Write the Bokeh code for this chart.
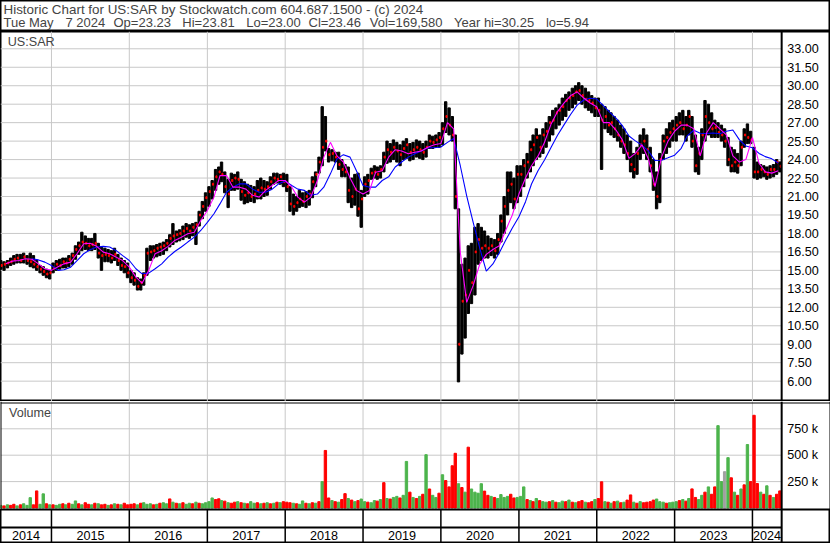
import pandas as pd
from bokeh.plotting import figure
from bokeh.layouts import column
from bokeh.models import Range1d, ColumnDataSource, Span, Label
from bokeh.embed import file_html
from bokeh.resources import INLINE
from bokeh.core.properties import value

# ---------------- texts ----------------
TITLE1 = "Historic Chart for US:SAR by Stockwatch.com 604.687.1500 - (c) 2024"
TITLE2_PARTS = ["Tue May", "7 2024", "Op=23.23", "Hi=23.81", "Lo=23.00", "Cl=23.46",
                "Vol=169,580", "Year hi=30.25", "lo=5.94"]
TITLE2_X = [3, 65, 113, 181.8, 245.7, 308, 369.3, 453.5, 545.4]   # text placement (px)
SYMBOL = "US:SAR"
VOL_TITLE = "Volume"

# ---------------- data (semi-monthly periods from 2014-05-01) ----------------
first_period = "2014-05-01"
hi = [15.8, 15.7, 15.8, 16.0, 16.2, 16.3, 16.3, 16.4, 16.2, 16.4, 16.2, 15.8, 15.4, 15.3, 15.1, 15.0,
      15.6, 15.8, 15.9, 16.0, 16.0, 16.2, 16.4, 17.0, 17.3, 18.1, 17.8, 17.6, 17.6, 18.0, 17.2, 16.9, 16.8, 16.7, 16.6, 16.8, 16.3, 16.0, 15.8, 15.6,
      15.0, 14.8, 14.4, 14.3, 14.8, 16.8, 17.0, 17.0, 17.1, 17.2, 17.3, 17.5, 17.9, 18.8, 18.2, 18.3, 18.6, 18.8, 18.7, 18.8, 18.9, 19.8, 20.6, 21.3,
      21.8, 22.3, 23.2, 23.4, 23.8, 23.0, 22.4, 22.9, 22.8, 23.0, 22.4, 22.2, 22.0, 21.9, 21.8, 22.3, 22.5, 22.3, 22.2, 22.6, 22.9, 22.9, 22.8, 22.9,
      22.8, 21.8, 21.2, 21.0, 21.5, 21.3, 21.4, 21.5, 22.6, 23.0, 24.2, 28.3, 27.5, 24.9, 24.8, 24.6, 24.6, 24.0, 23.6, 23.4, 22.5, 22.8, 22.9, 21.5,
      22.6, 22.8, 23.3, 23.5, 23.4, 23.5, 24.6, 25.5, 25.3, 25.6, 25.4, 25.2, 25.5, 25.7, 25.3, 25.4, 25.6, 25.5, 25.3, 25.5, 26.0, 25.9, 26.0, 26.2,
      27.0, 28.7, 28.2, 27.5, 26.0, 20.0, 15.5, 16.0, 17.0, 17.2, 18.5, 18.8, 18.5, 18.2, 17.8, 17.6, 17.5, 18.0, 19.5, 21.0, 23.0, 23.0, 22.5, 23.5,
      23.5, 24.0, 24.5, 25.5, 26.0, 26.5, 26.0, 26.5, 27.0, 27.5, 28.0, 28.2, 28.5, 29.0, 29.3, 29.5, 29.8, 30.0, 30.25, 30.0, 29.8, 29.5, 29.2, 29.0,
      29.0, 28.5, 28.3, 28.0, 27.8, 27.5, 27.2, 26.8, 26.5, 26.0, 25.5, 24.5, 25.0, 26.0, 26.5, 26.0, 25.0, 24.0, 23.0, 24.5, 26.0, 26.5, 27.0, 27.2,
      27.5, 27.8, 28.0, 27.5, 28.0, 27.5, 26.0, 25.0, 26.5, 28.8, 28.5, 27.8, 27.2, 27.0, 26.8, 26.5, 25.8, 25.0, 24.8, 24.5, 25.5, 26.5, 26.9, 26.3,
      25.0, 23.8, 23.6, 23.5, 23.4, 23.5, 23.6, 24.0, 23.81]
lo = [15.1, 15.0, 15.2, 15.4, 15.5, 15.6, 15.6, 15.6, 15.5, 15.3, 15.2, 15.0, 14.8, 14.6, 14.4, 14.3,
      14.8, 15.0, 15.1, 15.2, 15.2, 15.3, 15.5, 15.9, 16.3, 16.6, 16.7, 16.6, 16.6, 16.7, 16.0, 15.0, 15.7, 15.7, 15.6, 15.8, 15.4, 15.0, 14.8, 14.4,
      14.0, 13.8, 13.4, 13.4, 13.8, 14.6, 15.8, 16.0, 16.1, 16.2, 16.3, 16.6, 16.9, 17.1, 17.3, 17.4, 17.5, 17.7, 17.6, 17.8, 17.1, 18.6, 19.2, 19.8,
      20.2, 20.8, 21.5, 22.0, 22.2, 21.3, 20.1, 21.5, 21.5, 21.6, 20.7, 20.4, 20.5, 20.6, 20.5, 20.8, 20.8, 21.0, 21.1, 21.6, 22.0, 22.1, 22.0, 21.8,
      21.4, 19.8, 19.5, 19.8, 20.1, 20.2, 20.1, 20.3, 20.9, 21.8, 22.9, 23.5, 24.7, 23.8, 23.9, 23.8, 23.2, 22.6, 22.6, 20.5, 20.1, 20.3, 19.4, 18.5,
      21.0, 21.2, 22.4, 22.5, 22.4, 22.5, 23.0, 23.7, 23.8, 24.0, 23.8, 23.5, 24.0, 24.1, 23.9, 24.0, 24.2, 24.1, 24.0, 24.2, 24.9, 24.9, 25.0, 25.0,
      25.2, 26.2, 26.0, 25.5, 20.0, 5.94, 8.2, 9.5, 11.5, 12.3, 13.0, 15.5, 15.8, 16.0, 16.0, 16.2, 16.0, 16.3, 17.3, 18.0, 19.5, 20.5, 20.0, 20.5,
      21.0, 21.8, 22.5, 23.0, 23.5, 24.0, 24.2, 24.5, 25.0, 25.5, 26.0, 26.5, 26.8, 27.2, 27.5, 28.0, 28.2, 28.5, 28.8, 28.5, 28.2, 28.0, 27.8, 27.5,
      27.5, 23.2, 26.5, 26.2, 26.0, 25.8, 25.5, 25.0, 24.5, 24.0, 23.0, 22.5, 22.8, 24.0, 24.5, 24.0, 23.0, 21.5, 20.0, 20.5, 24.0, 24.5, 25.0, 25.5,
      25.5, 26.0, 26.0, 25.5, 26.0, 25.0, 23.0, 22.8, 24.0, 25.5, 26.0, 25.8, 25.8, 25.8, 25.5, 25.0, 23.5, 23.0, 23.0, 22.9, 23.5, 25.0, 25.3, 25.3,
      22.5, 22.4, 22.5, 22.6, 22.4, 22.5, 22.6, 22.8, 23.0]
cl = [15.4, 15.5, 15.6, 15.7, 15.9, 16.0, 15.8, 16.1, 15.8, 15.7, 15.5, 15.3, 15.1, 14.9, 14.7, 14.8,
      15.2, 15.5, 15.4, 15.7, 15.6, 15.9, 16.2, 16.7, 17.0, 17.3, 17.2, 17.0, 17.1, 17.2, 16.4, 16.2, 16.3, 16.2, 16.0, 16.3, 15.8, 15.4, 15.3, 14.8,
      14.4, 14.2, 13.7, 14.0, 14.6, 16.4, 16.5, 16.6, 16.8, 16.9, 17.0, 17.2, 17.6, 17.8, 17.9, 18.0, 18.2, 18.4, 18.2, 18.5, 18.7, 19.5, 20.2, 20.9,
      21.4, 22.0, 22.6, 23.0, 22.8, 21.8, 21.2, 22.3, 22.5, 22.4, 21.4, 21.1, 21.3, 21.0, 21.2, 21.5, 21.7, 21.6, 21.8, 22.2, 22.5, 22.4, 22.6, 22.2,
      21.8, 20.4, 20.2, 20.5, 20.8, 20.6, 21.0, 21.2, 22.2, 22.8, 23.8, 25.0, 25.5, 24.4, 24.5, 24.2, 23.6, 23.2, 23.0, 21.5, 21.0, 21.6, 20.0, 20.8,
      22.0, 22.3, 22.9, 23.0, 22.8, 23.2, 24.2, 24.8, 24.6, 25.0, 24.7, 24.4, 24.9, 25.2, 24.6, 24.8, 25.0, 24.8, 24.6, 25.0, 25.5, 25.4, 25.6, 25.8,
      26.5, 27.5, 26.8, 26.0, 21.0, 9.0, 12.5, 13.0, 15.0, 14.0, 16.5, 17.5, 16.8, 17.0, 16.8, 17.0, 16.6, 17.5, 19.0, 20.2, 21.5, 22.0, 20.8, 22.8,
      22.8, 23.5, 23.8, 24.8, 25.2, 25.8, 25.0, 26.0, 26.3, 27.0, 27.2, 27.8, 28.0, 28.3, 28.8, 29.0, 29.2, 29.5, 29.6, 29.2, 28.9, 28.8, 28.6, 28.2,
      28.0, 27.2, 27.5, 26.8, 27.0, 26.5, 26.0, 25.5, 25.2, 24.5, 23.6, 23.2, 24.5, 25.2, 25.5, 24.8, 23.5, 22.0, 21.0, 24.0, 25.5, 25.8, 26.2, 26.5,
      26.8, 27.0, 26.5, 26.8, 27.5, 25.5, 23.5, 24.5, 26.0, 27.5, 27.0, 26.5, 26.6, 26.2, 26.0, 25.5, 24.0, 23.5, 23.8, 23.5, 25.0, 26.0, 25.8, 25.6,
      23.0, 23.0, 23.2, 23.0, 22.8, 23.2, 23.2, 23.8, 23.46]
vol_k = [25, 20, 30, 25, 35, 20, 30, 40, 25, 98, 30, 162, 35, 134, 40, 30,
         30, 25, 35, 40, 30, 45, 35, 67, 40, 30, 50, 35, 30, 45, 40, 30, 35, 25, 30, 40, 35, 30, 45, 30,
         35, 40, 30, 45, 50, 35, 40, 30, 35, 45, 50, 40, 86, 55, 45, 40, 50, 35, 45, 40, 55, 45, 40, 50,
         60, 95, 80, 87, 70, 65, 50, 45, 55, 60, 50, 45, 40, 60, 45, 50, 40, 45, 50, 40, 45, 55, 50, 60,
         55, 50, 45, 40, 35, 67, 45, 40, 50, 45, 60, 250, 545, 95, 70, 60, 55, 80, 136, 90, 75, 60, 70, 85,
         60, 55, 50, 70, 65, 80, 240, 90, 85, 100, 110, 95, 120, 441, 150, 100, 90, 110, 130, 505, 180, 120, 100, 140,
         315, 260, 200, 400, 518, 230, 194, 150, 576, 180, 150, 140, 230, 160, 120, 110, 100, 90, 127, 100, 110, 130, 95, 100,
         110, 200, 80, 70, 60, 90, 70, 60, 55, 60, 70, 55, 50, 65, 60, 75, 55, 50, 60, 70, 55, 50, 60, 80,
         90, 248, 60, 55, 45, 60, 65, 50, 55, 75, 124, 55, 45, 60, 50, 55, 60, 75, 85, 60, 55, 45, 50, 55,
         60, 70, 80, 65, 90, 181, 100, 80, 120, 150, 200, 130, 200, 780, 250, 344, 477, 286, 150, 120, 180, 219, 601, 250,
         878, 232, 150, 130, 210, 120, 100, 130, 162]
vol_dir = list("UDUDDUDUUUDDUUDU"
               "DUUDUDUUDUDDUDUDDUDUDUDD"
               "DDUDUUUDUDUUDUDUDUUDUDUU"
               "UUDDUDUDDUDUDUUDUDUDUDUD"
               "DDUDUUDUDUDUDDUDUDDUDUDU"
               "UDUUDUDUDUUDUUDUDUDUDUUD"
               "UDDDDUDUDUUUUDDUDUUUUDDU"
               "UUDUDUDUUDUDUUDUDUDDUDDU"
               "DDUDUDUDUDDUDUDDDDUUUDUU"
               "UDUDUDDUUDUDDUUFUDUDUDUD"
               "DDUDUDUDD")

# moving averages, monthly readings (month starts)
ma_short_start = "2014-06-01"
ma_short = [15.53, 15.75, 15.8, 15.94, 15.9, 15.53, 15.13,
            15.0, 15.3, 15.53, 15.67, 16.35, 17.16, 17.2, 16.95, 16.48, 16.35, 16.07, 15.8,
            15.26, 14.45, 13.96, 15.0, 16.35, 16.6, 16.95, 17.43, 17.7, 17.97, 18.1, 19.05,
            19.86, 20.95, 22.7, 22.7, 21.76, 21.76, 21.6, 21.1, 20.95, 21.5, 21.9, 22.3,
            22.3, 21.76, 20.95, 20.54, 20.95, 22.3, 24.2, 25.4, 24.3, 23.8, 22.5, 21.5,
            21.2, 21.5, 22.97, 23.1, 24.2, 24.8, 24.7, 24.47, 24.6, 24.7, 25.0, 25.2,
            25.3, 27.0, 26.5, 16.5, 12.4, 13.8, 15.5, 16.3, 16.7, 17.0, 18.3, 19.5,
            21.2, 22.5, 23.5, 24.3, 25.4, 26.9, 27.9, 28.6, 29.2, 29.5, 29.0, 28.6,
            28.3, 27.0, 27.0, 26.4, 25.6, 24.1, 24.5, 25.2, 24.0, 21.8, 24.2, 25.5,
            26.3, 26.8, 26.8, 26.5, 24.3, 26.2, 27.0, 26.5, 26.0, 24.3, 23.8, 24.0,
            25.8, 23.7, 23.0, 22.9, 23.1]
ma_long_start = "2014-10-01"
ma_long = [15.95, 15.85, 15.67,
           15.4, 15.0, 15.05, 15.26, 15.8, 16.35, 16.67, 16.9, 16.95, 16.9, 16.6, 16.2,
           15.8, 15.13, 14.72, 14.78, 15.13, 15.53, 16.07, 16.53, 16.9, 17.3, 17.7, 18.24,
           18.9, 19.6, 20.4, 21.35, 21.76, 22.03, 22.03, 21.6, 21.35, 21.35, 21.6, 22.03,
           22.24, 21.9, 21.6, 21.5, 21.1, 21.2, 21.76, 22.84, 24.06, 24.4, 24.2, 23.1,
           21.9, 21.76, 21.76, 22.3, 22.6, 23.4, 23.8, 24.2, 24.47, 24.7, 24.96, 24.96,
           25.02, 25.4, 25.72, 23.5, 21.06, 18.86, 16.82, 14.94, 15.52, 16.44, 17.48, 18.44,
           19.36, 20.58, 22.02, 23.12, 23.96, 25.0, 25.98, 26.84, 27.68, 28.42, 28.84, 28.98,
           28.92, 28.38, 27.88, 27.36, 26.76, 25.92, 25.52, 25.16, 24.68, 23.92, 23.94, 24.14,
           24.36, 24.92, 25.92, 26.38, 26.14, 26.12, 26.16, 26.1, 26.3, 26.4, 25.6, 25.1,
           24.96, 24.5, 24.24, 24.06, 23.72]

price_ticks = [6.0, 7.5, 9.0, 10.5, 12.0, 13.5, 15.0, 16.5, 18.0, 19.5, 21.0, 22.5, 24.0, 25.5, 27.0, 28.5, 30.0, 31.5, 33.0]
price_tick_labels = ["6.00", "7.50", "9.00", "10.50", "12.00", "13.50", "15.00", "16.50", "18.00", "19.50",
                     "21.00", "22.50", "24.00", "25.50", "27.00", "28.50", "30.00", "31.50", "33.00"]
vol_ticks = [250000, 500000, 750000]
vol_tick_labels = ["250 k", "500 k", "750 k"]
year_list = [2014, 2015, 2016, 2017, 2018, 2019, 2020, 2021, 2022, 2023, 2024]

chart_start = pd.Timestamp("2014-05-07")
chart_end = pd.Timestamp("2024-05-17")
canvas_end = pd.Timestamp("2025-01-01")

# ---------------- derived columns ----------------
months = pd.date_range(first_period, periods=len(hi) // 2 + 2, freq="MS")
starts = []
for m in months:
    starts.append(m)
    starts.append(m + pd.Timedelta(days=15))
starts = starts[:len(hi)]
centers = [s + pd.Timedelta(hours=180) for s in starts]
close_x = [s + pd.Timedelta(hours=276) for s in starts]
DAY = 86400000

dir_color = {"U": "#4cb44c", "D": "#ff0000", "F": "#a0a0a0"}
src = ColumnDataSource(dict(
    x=centers, cx=close_x, hi=hi, lo=lo, cl=cl,
    vol=[v * 1000 for v in vol_k],
    vcol=[dir_color[d] for d in vol_dir],
))
ma_short_dates = pd.date_range(ma_short_start, periods=len(ma_short), freq="MS")
ma_long_dates = pd.date_range(ma_long_start, periods=len(ma_long), freq="MS")

FONT_NAME = "Liberation Sans"
FONT = value(FONT_NAME)
FS = "12.6px"
W = 830
GRID = "#c8c8c8"

def base_fig(h, x_range, y_range, outline=True):
    f = figure(width=W, height=h, x_range=x_range, y_range=y_range,
               x_axis_location=None, y_axis_location=None, title=None,
               toolbar_location=None, output_backend="svg", min_border=0)
    f.grid.visible = False
    f.outline_line_color = "black" if outline else None
    f.outline_line_width = 2
    f.background_fill_color = "white"
    f.border_fill_color = "white"
    return f

xr = Range1d(chart_start, canvas_end)
year_bounds = [pd.Timestamp(f"{y}-01-01") for y in year_list[1:]]

# ---------------- title strip ----------------
t = base_fig(31, Range1d(0, W), Range1d(0, 31))
t.add_layout(Label(x=3, y=22.5, text=TITLE1, text_font=FONT_NAME, text_font_size="13.4px", text_baseline="middle"))
for txt, tx in zip(TITLE2_PARTS, TITLE2_X):
    t.add_layout(Label(x=tx, y=9.5, text=txt, text_font=FONT_NAME, text_font_size="13px", text_baseline="middle"))

# ---------------- price panel ----------------
P_LO, P_HI = 4.348, 34.405
p = base_fig(370, xr, Range1d(P_LO, P_HI))
p.segment(x0=[chart_start] * len(price_ticks), x1=[chart_end] * len(price_ticks),
          y0=price_ticks, y1=price_ticks, line_color=GRID, line_width=1)
p.segment(x0=year_bounds, x1=year_bounds, y0=[P_LO] * len(year_bounds), y1=[P_HI] * len(year_bounds),
          line_color=GRID, line_width=1)
p.vbar(x="x", bottom="lo", top="hi", width=11 * DAY, source=src, color="black")
p.rect(x="cx", y="cl", width=5 * DAY, height=0.16, source=src, color="#ff0000")
p.line(ma_long_dates, ma_long, line_color="#0000ff", line_width=1.1)
p.line(ma_short_dates, ma_short, line_color="#ff00ff", line_width=1.1)
p.add_layout(Span(location=chart_end, dimension="height", line_color="black", line_width=2))
p.text(x=[chart_end + pd.Timedelta(days=26)] * len(price_ticks), y=price_ticks, text=price_tick_labels,
       text_font=FONT, text_font_size=FS, text_baseline="middle", text_align="left", text_color="black")
p.add_layout(Label(x=chart_start + pd.Timedelta(days=34), y=33.55, text=SYMBOL, text_font=FONT_NAME,
                   text_font_size=FS, text_baseline="middle"))

# ---------------- volume panel (own border: gap then second rule at top) ----------------
V_H = 108
V_LO, V_HI = -14205, 1008523
v = base_fig(V_H, xr, Range1d(V_LO, V_HI), outline=False)
px_v = (V_HI - V_LO) / V_H
v.segment(x0=[chart_start] * 3, x1=[chart_end] * 3, y0=vol_ticks, y1=vol_ticks, line_color=GRID, line_width=1)
v.segment(x0=year_bounds, x1=year_bounds, y0=[V_LO] * len(year_bounds), y1=[V_HI] * len(year_bounds),
          line_color=GRID, line_width=1)
v.vbar(x="x", bottom=0, top="vol", width=11 * DAY, source=src, color="vcol")
for loc, dim, lw in [(chart_start, "height", 2), (canvas_end, "height", 2), (chart_end, "height", 2),
                     (V_LO, "width", 2), (V_HI - 1.5 * px_v, "width", 1)]:
    v.add_layout(Span(location=loc, dimension=dim, line_color="black", line_width=lw))
v.text(x=[chart_end + pd.Timedelta(days=26)] * 3, y=vol_ticks, text=vol_tick_labels,
       text_font=FONT, text_font_size=FS, text_baseline="middle", text_align="left", text_color="black")
v.add_layout(Label(x=chart_start + pd.Timedelta(days=40), y=895000, text=VOL_TITLE, text_font=FONT_NAME,
                   text_font_size=FS, text_baseline="middle"))

# ---------------- year strip ----------------
yf = base_fig(34, xr, Range1d(0, 34))
yf.segment(x0=year_bounds, x1=year_bounds, y0=[0] * len(year_bounds), y1=[34] * len(year_bounds),
           line_color="black", line_width=1.5)
yf.segment(x0=[chart_start], x1=[chart_end], y0=[16], y1=[16], line_color="black", line_width=2)
yf.add_layout(Span(location=chart_end, dimension="height", line_color="black", line_width=2))
lab_x = []
for y in year_list:
    a = max(pd.Timestamp(f"{y}-01-01"), chart_start)
    b = min(pd.Timestamp(f"{y + 1}-01-01"), chart_end)
    lab_x.append(a + (b - a) / 2)
yf.text(x=lab_x, y=[8.5] * len(year_list), text=[str(y) for y in year_list], text_font=FONT,
        text_font_size=FS, text_baseline="middle", text_align="center", text_color="black")

layout = column(t, p, v, yf, spacing=0)
open("out.html", "w").write(file_html(layout, INLINE))
